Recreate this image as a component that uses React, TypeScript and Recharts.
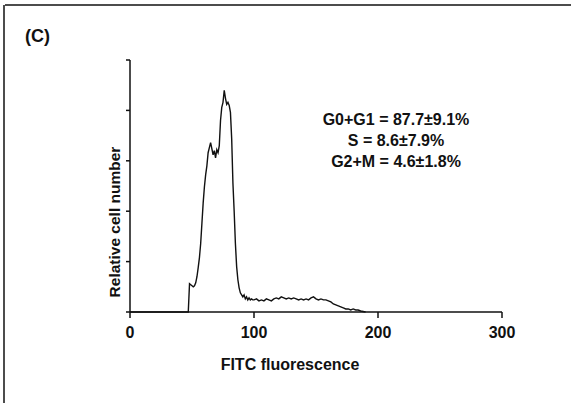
import React from 'react';
import { LineChart, Line, XAxis, YAxis, Customized } from 'recharts';

// Fluorescence channel (x) and relative cell count (y)
const channels = [
  0, 47, 48, 49, 50, 51, 52, 53, 54, 55, 56, 57, 58, 59, 60, 61, 62, 63, 64, 65,
  66, 67, 68, 69, 70, 71, 72, 73, 74, 75, 76, 77, 78, 79, 80, 81, 82, 83, 84, 85,
  86, 87, 88, 89, 90, 91, 92, 93, 94, 95, 96, 97, 98, 99, 100, 102, 104, 106, 108, 110,
  112, 114, 116, 118, 120, 122, 124, 126, 128, 130, 132, 134, 136, 138, 140, 142, 144, 146, 148, 150,
  152, 154, 156, 158, 160, 162, 164, 166, 168, 170, 172, 174, 176, 178, 180, 182, 184, 186, 190,
];
const counts = [
  0, 0, 28, 27, 26, 25, 26, 29, 35, 44, 54, 68, 88, 108, 124, 136, 145, 158, 163, 168,
  162, 156, 160, 153, 161, 158, 165, 190, 203, 208, 220, 212, 206, 208, 205, 198, 172, 128, 100, 68,
  45, 32, 24, 19, 17, 15, 17, 13, 15, 12, 14, 12, 13, 12, 12, 13, 11, 12, 11, 13,
  12, 11, 13, 14, 13, 15, 14, 13, 14, 13, 14, 13, 12, 13, 12, 13, 12, 14, 15, 13,
  12, 13, 12, 12, 11, 10, 8, 7, 6, 5, 4, 3, 3, 2, 3, 2, 2, 1, 0,
];

const xTicks = [0, 100, 200, 300];
const yTicks = [0, 50, 100, 150, 200, 250];
const panelLabel = '(C)';
const xLabel = 'FITC fluorescence';
const yLabel = 'Relative cell number';
const annotations = ['G0+G1 = 87.7\u00b19.1%', 'S = 8.6\u00b17.9%', 'G2+M = 4.6\u00b11.8%'];

const data = channels.map((c, i) => ({ x: c, y: counts[i] }));

const FONT = '"Liberation Sans", Arial, sans-serif';
const INK = '#111';

const NoLabel = () => <g />;

const Overlay = () => (
  <g fontFamily={FONT} fontWeight={700} fill={INK}>
    <line x1={5} y1={5} x2={571} y2={5} stroke={INK} strokeWidth={1.5} />
    <line x1={4} y1={5} x2={4} y2={403} stroke={INK} strokeWidth={1.5} />
    <text x={25} y={42} fontSize={18}>{panelLabel}</text>
    <text x={290} y={370} fontSize={16} textAnchor="middle">{xLabel}</text>
    <text x={120} y={222} fontSize={15.5} textAnchor="middle" transform="rotate(-90 120 222)">{yLabel}</text>
    {annotations.map((t, i) => (
      <text key={i} x={396} y={125 + i * 21} fontSize={16} textAnchor="middle">{t}</text>
    ))}
  </g>
);

export default function App() {
  return (
    <div style={{ position: 'absolute', left: 0, top: 0, width: 571, height: 403, background: '#fff' }}>
      <LineChart
        width={571}
        height={403}
        data={data}
        margin={{ top: 60, right: 69, bottom: 61, left: 70 }}
      >
        <XAxis
          dataKey="x"
          type="number"
          domain={[0, 300]}
          ticks={xTicks}
          height={30}
          tickSize={6}
          tickMargin={9}
          axisLine={{ stroke: INK, strokeWidth: 1.5 }}
          tickLine={{ stroke: INK, strokeWidth: 1.5 }}
          tick={{ fontSize: 16, fontWeight: 700, fill: INK, fontFamily: FONT }}
        />
        <YAxis
          type="number"
          domain={[0, 250]}
          ticks={yTicks}
          width={60}
          tickSize={4}
          tick={NoLabel}
          axisLine={{ stroke: INK, strokeWidth: 1.5 }}
          tickLine={{ stroke: INK, strokeWidth: 1.5 }}
        />
        <Line
          type="linear"
          dataKey="y"
          stroke={INK}
          strokeWidth={1.4}
          dot={false}
          isAnimationActive={false}
        />
        <Customized component={Overlay} />
      </LineChart>
    </div>
  );
}
